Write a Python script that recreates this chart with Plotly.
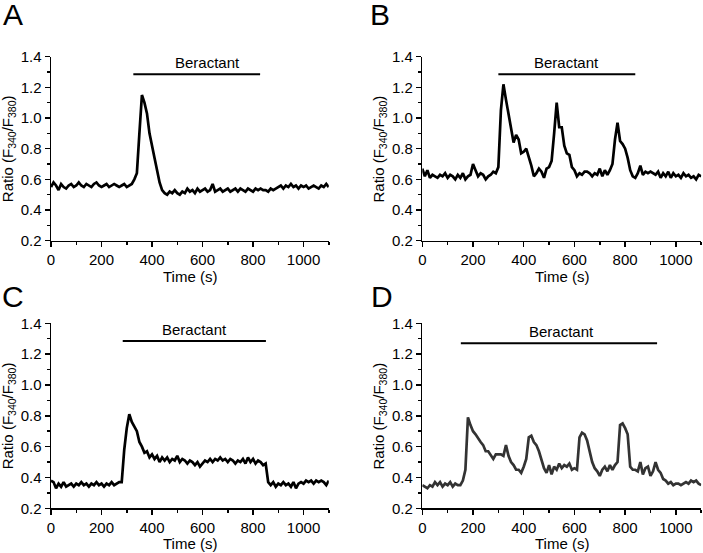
import numpy as np
import plotly.graph_objects as go

W, H = 703, 553
FONT = "Liberation Sans, Arial, Helvetica, sans-serif"

# ---- data (Ratio F340/F380, sampled every 10 s from 0 to 1100 s) ----
ratio_A = [0.55, 0.58, 0.56, 0.53, 0.57, 0.55, 0.54, 0.56, 0.57, 0.55, 0.56, 0.58, 0.56, 0.55, 0.57, 0.56,
           0.55, 0.57, 0.58, 0.56, 0.55, 0.56, 0.57, 0.55, 0.56, 0.57, 0.56, 0.55, 0.56, 0.57, 0.55, 0.56,
           0.57, 0.60, 0.64, 0.90, 1.15, 1.10, 1.03, 0.90, 0.81, 0.74, 0.66, 0.58, 0.53,
           0.51, 0.50, 0.52, 0.51, 0.53, 0.51, 0.50, 0.52, 0.51, 0.54, 0.52, 0.53, 0.51, 0.54, 0.52, 0.53,
           0.54, 0.52, 0.53, 0.57, 0.52, 0.53, 0.54, 0.52, 0.53, 0.54, 0.52, 0.53, 0.54, 0.52, 0.54, 0.53,
           0.52, 0.54, 0.53, 0.52, 0.54, 0.53, 0.54, 0.53, 0.53, 0.52, 0.54, 0.53, 0.54, 0.55, 0.56, 0.54,
           0.56, 0.55, 0.57, 0.55, 0.56, 0.54, 0.56, 0.55, 0.56, 0.54, 0.55, 0.56, 0.55, 0.54, 0.56, 0.55,
           0.57, 0.55]

ratio_B = [0.67, 0.62, 0.66, 0.61, 0.63, 0.62, 0.61, 0.63, 0.62, 0.64, 0.61, 0.63, 0.62, 0.60, 0.63, 0.61,
           0.64, 0.60, 0.62, 0.63, 0.70, 0.66, 0.62, 0.64, 0.63, 0.60, 0.62, 0.63, 0.65, 0.64, 0.68, 1.05,
           1.22, 1.12, 1.02, 0.95, 0.84, 0.89, 0.86, 0.77, 0.78, 0.80, 0.75, 0.69, 0.62, 0.64, 0.67, 0.65,
           0.61, 0.67, 0.68, 0.72, 0.90, 1.10, 0.94, 0.94, 0.82, 0.77, 0.76, 0.68, 0.66, 0.62, 0.64, 0.63,
           0.65, 0.65, 0.64, 0.62, 0.64, 0.63, 0.67, 0.62, 0.66, 0.63, 0.66, 0.70, 0.86, 0.97, 0.85, 0.83,
           0.80, 0.74, 0.66, 0.62, 0.61, 0.64, 0.69, 0.63, 0.65, 0.64, 0.65, 0.64, 0.63, 0.65, 0.61, 0.64,
           0.62, 0.65, 0.61, 0.64, 0.62, 0.63, 0.61, 0.64, 0.62, 0.63, 0.61, 0.62, 0.60, 0.63, 0.62]

ratio_C = [0.38, 0.37, 0.33, 0.36, 0.34, 0.37, 0.34, 0.35, 0.36, 0.34, 0.36, 0.35, 0.37, 0.35, 0.36, 0.34,
           0.36, 0.35, 0.37, 0.35, 0.36, 0.34, 0.36, 0.35, 0.37, 0.35, 0.36, 0.37, 0.37, 0.58, 0.72, 0.81,
           0.76, 0.73, 0.70, 0.63, 0.60, 0.56, 0.57, 0.53, 0.55, 0.52, 0.54, 0.50, 0.53, 0.51, 0.53, 0.50,
           0.52, 0.51, 0.54, 0.50, 0.52, 0.51, 0.49, 0.51, 0.50, 0.48, 0.50, 0.47, 0.49, 0.51, 0.50, 0.52,
           0.50, 0.52, 0.51, 0.53, 0.51, 0.52, 0.50, 0.52, 0.51, 0.49, 0.51, 0.50, 0.52, 0.49, 0.53, 0.50,
           0.52, 0.49, 0.51, 0.50, 0.48, 0.49, 0.37, 0.35, 0.37, 0.34, 0.36, 0.35, 0.37, 0.35, 0.36, 0.34,
           0.37, 0.33, 0.36, 0.37, 0.36, 0.38, 0.37, 0.38, 0.36, 0.38, 0.37, 0.38, 0.37, 0.35, 0.38]

ratio_D = [0.35, 0.34, 0.33, 0.35, 0.34, 0.37, 0.35, 0.37, 0.34, 0.36, 0.35, 0.37, 0.34, 0.36, 0.35, 0.35,
           0.38, 0.45, 0.79, 0.74, 0.70, 0.68, 0.65, 0.63, 0.61, 0.57, 0.57, 0.54, 0.52, 0.55, 0.55, 0.55,
           0.54, 0.61, 0.54, 0.50, 0.48, 0.45, 0.45, 0.43, 0.47, 0.52, 0.66, 0.67, 0.63, 0.61, 0.57, 0.52,
           0.46, 0.43, 0.48, 0.42, 0.47, 0.45, 0.49, 0.46, 0.48, 0.47, 0.49, 0.45, 0.46, 0.45, 0.66, 0.69,
           0.68, 0.64, 0.56, 0.50, 0.46, 0.44, 0.41, 0.45, 0.47, 0.44, 0.48, 0.45, 0.48, 0.50, 0.74, 0.75,
           0.72, 0.68, 0.47, 0.45, 0.45, 0.44, 0.50, 0.42, 0.46, 0.47, 0.41, 0.44, 0.50, 0.45, 0.43, 0.39,
           0.38, 0.36, 0.37, 0.35, 0.36, 0.36, 0.35, 0.36, 0.37, 0.36, 0.38, 0.37, 0.38, 0.36, 0.35]

panel_labels = ["A", "B", "C", "D"]
line_colors = ["#000000", "#000000", "#000000", "#333333"]
beractant_start = [326, 300, 284, 152]
beractant_end = [828, 840, 851, 926]
beractant_text_x = [620, 567, 567, 550]
x_ticks = [0, 200, 400, 600, 800, 1000]
y_ticks = [0.2, 0.4, 0.6, 0.8, 1.0, 1.2, 1.4]

series = [ratio_A, ratio_B, ratio_C, ratio_D]

# ---- layout geometry (pixels) ----
x_px = [(51, 328.8), (422.3, 701.2), (51, 328.8), (422.3, 701.2)]
y_px = [(56.7, 240.7), (56.7, 240.7), (323.3, 508.3), (323.3, 508.3)]

def px(xp):
    return xp / W

def py(yp):
    return 1 - yp / H

fig = go.Figure()
layout = dict(
    template="none",
    width=W, height=H, margin=dict(l=0, r=0, t=0, b=0, pad=0), autosize=False,
    paper_bgcolor="white", plot_bgcolor="white", showlegend=False,
    font=dict(family=FONT, size=15, color="black"),
)
annotations = []
shapes = []

for i, vals in enumerate(series):
    n = i + 1
    xa = "x" if n == 1 else f"x{n}"
    ya = "y" if n == 1 else f"y{n}"
    t = 10 * np.arange(len(vals))
    fig.add_trace(go.Scatter(x=t, y=vals, mode="lines", xaxis=xa, yaxis=ya,
                             line=dict(color=line_colors[i], width=2.7), hoverinfo="skip"))
    common = dict(showgrid=False, zeroline=False, showline=True, linecolor="black", linewidth=1.5,
                  ticks="outside", ticklen=5, tickwidth=1.5, tickcolor="black", automargin=False,
                  tickfont=dict(family=FONT, size=15, color="black"))
    layout[f"xaxis{'' if n == 1 else n}"] = dict(
        common, domain=[px(x_px[i][0]), px(x_px[i][1])], anchor=ya, range=[0, 1100],
        tickvals=x_ticks, ticktext=[str(v) for v in x_ticks],
        minor=dict(ticks="outside", ticklen=3, tickwidth=1.5, tickcolor="black", dtick=100, tick0=0))
    layout[f"yaxis{'' if n == 1 else n}"] = dict(
        common, domain=[py(y_px[i][1]), py(y_px[i][0])], anchor=xa, range=[0.2, 1.4],
        tickvals=y_ticks, ticktext=[f"{v:.1f}" for v in y_ticks],
        minor=dict(ticks="outside", ticklen=3, tickwidth=1.5, tickcolor="black", dtick=0.1, tick0=0.2))

    bar_y = 1.285 if i < 3 else 1.27
    txt_y = 1.36 if i < 3 else 1.345
    shapes.append(dict(type="line", xref=xa, yref=ya, x0=beractant_start[i], x1=beractant_end[i],
                       y0=bar_y, y1=bar_y, line=dict(color="black", width=2)))
    annotations.append(dict(text="Beractant", xref=xa, yref=ya, x=beractant_text_x[i], y=txt_y,
                            showarrow=False, xanchor="center", yanchor="middle",
                            font=dict(family=FONT, size=15, color="black")))
    # axis titles
    xc = (x_px[i][0] + x_px[i][1]) / 2
    yc = (y_px[i][0] + y_px[i][1]) / 2
    annotations.append(dict(text="Time (s)", xref="paper", yref="paper", x=px(xc), y=py(y_px[i][1] + 35.5),
                            showarrow=False, xanchor="center", yanchor="middle",
                            font=dict(family=FONT, size=15, color="black")))
    annotations.append(dict(text="Ratio (F<sub>340</sub>/F<sub>380</sub>)", xref="paper", yref="paper",
                            x=px(x_px[i][0] - 42.5), y=py(yc), textangle=-90,
                            showarrow=False, xanchor="center", yanchor="middle",
                            font=dict(family=FONT, size=15, color="black")))

letter_pos = [(12.5, 14), (380, 14), (13, 296), (382, 296)]
for lab, (lx, ly) in zip(panel_labels, letter_pos):
    annotations.append(dict(text=lab, xref="paper", yref="paper", x=px(lx), y=py(ly),
                            showarrow=False, xanchor="center", yanchor="middle",
                            font=dict(family=FONT, size=30, color="black")))

layout["annotations"] = annotations
layout["shapes"] = shapes
fig.update_layout(**layout)
fig.write_html("out.html", config={"displayModeBar": False, "staticPlot": True},
               post_script="document.body.style.margin='0';document.body.style.padding='0';"
                           "document.documentElement.style.overflow='hidden';")
